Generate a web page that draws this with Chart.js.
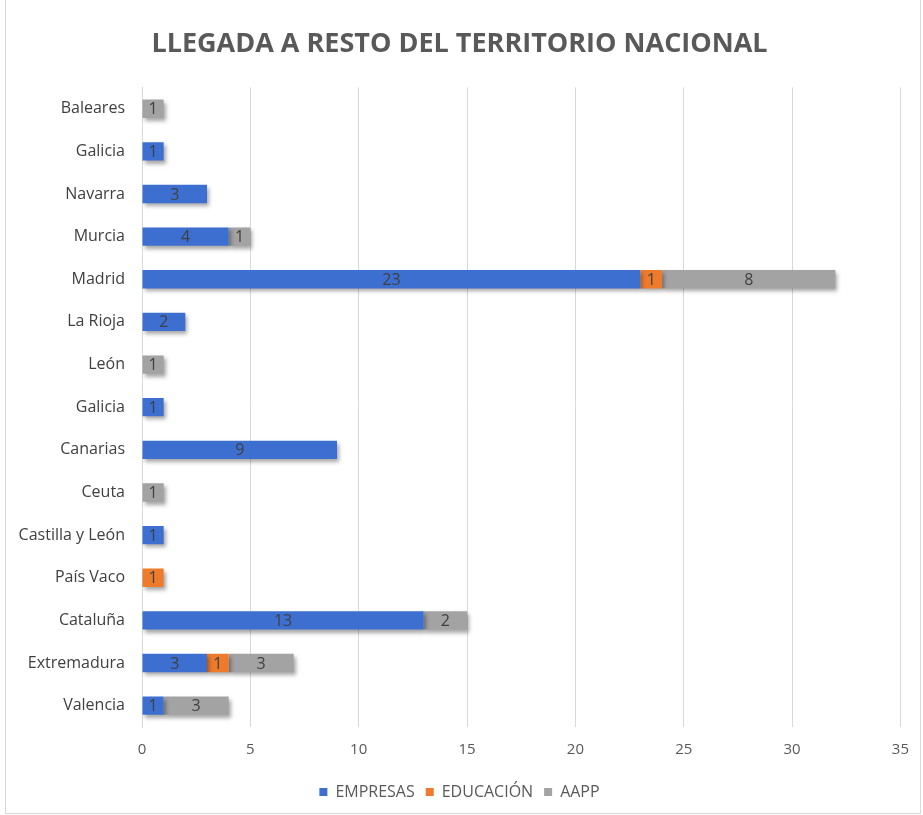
<!DOCTYPE html>
<html>
<head>
<meta charset="utf-8">
<script src="https://cdn.jsdelivr.net/npm/chart.js@4"></script>
<style>
  html, body { margin: 0; padding: 0; background: #fff; }
  #wrap { position: relative; width: 923px; height: 815px; }
  #frame { position: absolute; left: 5px; top: 0; width: 914px; height: 813px; border: 1px solid #d9d9d9; border-top: none; pointer-events: none; }
  canvas { position: absolute; left: 0; top: 0; }
</style>
</head>
<body>
<div id="wrap">
  <canvas id="chart" width="923" height="815"></canvas>
  <div id="frame"></div>
</div>
<script>
  const regiones = ['Baleares', 'Galicia', 'Navarra', 'Murcia', 'Madrid', 'La Rioja', 'León', 'Galicia',
    'Canarias', 'Ceuta', 'Castilla y León', 'País Vaco', 'Cataluña', 'Extremadura', 'Valencia'];
  const empresas  = [0, 1, 3, 4, 23, 2, 0, 1, 9, 0, 1, 0, 13, 3, 1];
  const educacion = [0, 0, 0, 0, 1, 0, 0, 0, 0, 0, 0, 1, 0, 1, 0];
  const aapp      = [1, 0, 0, 1, 8, 0, 1, 0, 0, 1, 0, 0, 2, 3, 3];
  const xTicks = [0, 5, 10, 15, 20, 25, 30, 35];

  const FONT = "'Open Sans', sans-serif";

  // sombra de las barras como en Excel
  const shadowPlugin = {
    id: 'barShadow',
    beforeDatasetsDraw(chart) {
      const ctx = chart.ctx;
      ctx.save();
      ctx.shadowColor = 'rgba(0,0,0,0.35)';
      ctx.shadowBlur = 4;
      ctx.shadowOffsetX = 2;
      ctx.shadowOffsetY = 3;
    },
    afterDatasetsDraw(chart) {
      chart.ctx.restore();
    }
  };

  // etiquetas de valor en el centro de cada tramo
  const valueLabels = {
    id: 'valueLabels',
    afterDatasetsDraw(chart) {
      const ctx = chart.ctx;
      ctx.save();
      ctx.font = '16px ' + FONT;
      ctx.fillStyle = '#404040';
      ctx.textAlign = 'center';
      ctx.textBaseline = 'middle';
      chart.data.datasets.forEach((ds, i) => {
        chart.getDatasetMeta(i).data.forEach((bar, j) => {
          const v = ds.data[j];
          if (!v) return;
          const cx = (bar.x + bar.base) / 2;
          ctx.fillText(String(v), cx, bar.y + 1);
        });
      });
      ctx.restore();
    }
  };

  new Chart(document.getElementById('chart').getContext('2d'), {
    type: 'bar',
    data: {
      labels: regiones,
      datasets: [
        { label: 'EMPRESAS', data: empresas, backgroundColor: '#3c6fcf' },
        { label: 'EDUCACIÓN', data: educacion, backgroundColor: '#ee7b2c' },
        { label: 'AAPP', data: aapp, backgroundColor: '#a3a3a3' }
      ]
    },
    options: {
      indexAxis: 'y',
      responsive: false,
      animation: false,
      layout: { padding: { left: 10, right: 14, top: 0, bottom: 5 } },
      datasets: { bar: { categoryPercentage: 0.5, barPercentage: 0.86 } },
      scales: {
        x: {
          stacked: true,
          min: 0,
          max: 35,
          afterBuildTicks: s => { s.ticks = xTicks.map(v => ({ value: v })); },
          grid: { color: '#d9d9d9', lineWidth: 1, drawTicks: false },
          border: { display: false },
          ticks: { color: '#595959', font: { family: FONT, size: 15 }, padding: 14 }
        },
        y: {
          stacked: true,
          afterFit: s => { s.width = 132; },
          grid: { display: false, drawTicks: false },
          border: { display: true, color: '#d9d9d9' },
          ticks: { color: '#404040', font: { family: FONT, size: 16 }, padding: 17 }
        }
      },
      plugins: {
        title: {
          display: true,
          text: 'LLEGADA A RESTO DEL TERRITORIO NACIONAL',
          color: '#595959',
          font: { family: FONT, size: 27, weight: 'bold' },
          padding: { top: 28, bottom: 27 }
        },
        legend: {
          position: 'bottom',
          labels: {
            color: '#595959',
            font: { family: FONT, size: 16 },
            boxWidth: 8,
            boxHeight: 8,
            padding: 11
          }
        },
        tooltip: { enabled: false }
      }
    },
    plugins: [shadowPlugin, valueLabels]
  });
</script>
</body>
</html>
